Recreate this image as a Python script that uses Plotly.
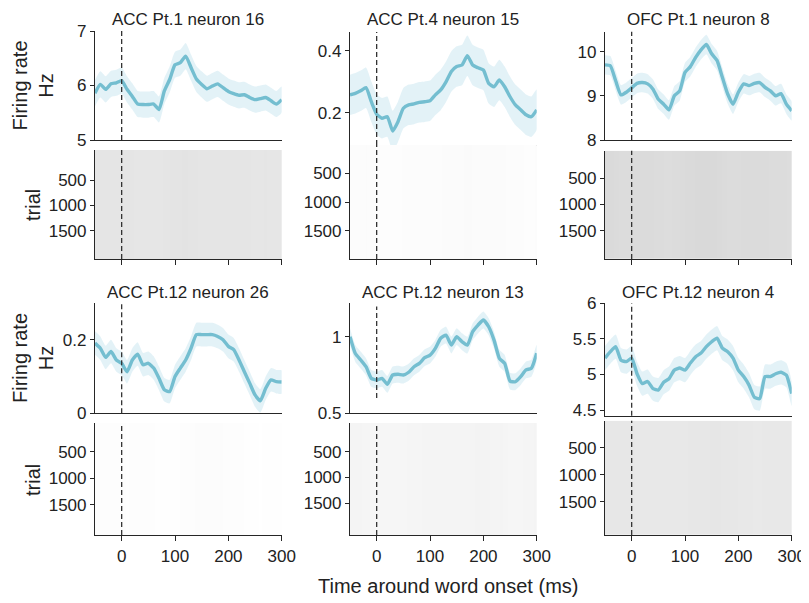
import plotly.graph_objects as go

# page body has an 8px margin: figure is placed at (8, 8) in the 809x603 window
OFF = 8
W, H = 801, 595

# ---------------- data ----------------
time_ms = [-50, -40, -30, -20, -10, 0, 10, 20, 30, 40, 50, 60, 70, 80, 90, 100, 110, 120,
           130, 140, 150, 160, 170, 180, 190, 200, 210, 220, 230, 240, 250, 260, 270, 280, 290, 300]

titles = ["ACC Pt.1 neuron 16", "ACC Pt.4 neuron 15", "OFC Pt.1 neuron 8",
          "ACC Pt.12 neuron 26", "ACC Pt.12 neuron 13", "OFC Pt.12 neuron 4"]

rate_acc1_n16 = [5.86, 6.02, 5.93, 6.03, 6.05, 6.09, 5.93, 5.80, 5.66, 5.65, 5.65, 5.66, 5.56, 5.90,
                 6.11, 6.38, 6.42, 6.54, 6.33, 6.12, 6.02, 5.94, 5.99, 6.03, 5.96, 5.89, 5.85, 5.82,
                 5.83, 5.78, 5.74, 5.76, 5.78, 5.72, 5.66, 5.74]
rate_acc4_n15 = [0.258, 0.263, 0.271, 0.281, 0.236, 0.196, 0.183, 0.188, 0.142, 0.172, 0.215, 0.226,
                 0.229, 0.234, 0.236, 0.239, 0.258, 0.274, 0.300, 0.333, 0.349, 0.354, 0.384, 0.354,
                 0.345, 0.338, 0.295, 0.284, 0.306, 0.284, 0.252, 0.226, 0.210, 0.194, 0.188, 0.210]
rate_ofc1_n8 = [9.70, 9.68, 9.34, 9.02, 9.08, 9.18, 9.28, 9.30, 9.27, 9.15, 8.92, 8.81, 8.68, 9.00,
                9.11, 9.53, 9.66, 9.87, 10.04, 10.16, 9.95, 9.80, 9.42, 9.04, 8.81, 9.08, 9.27, 9.23,
                9.28, 9.30, 9.19, 9.11, 9.00, 9.05, 8.81, 8.66]
rate_acc12_n26 = [0.191, 0.177, 0.152, 0.168, 0.145, 0.136, 0.113, 0.145, 0.161, 0.132, 0.136, 0.123,
                  0.095, 0.064, 0.059, 0.100, 0.123, 0.145, 0.177, 0.214, 0.214, 0.214, 0.214, 0.209,
                  0.200, 0.182, 0.173, 0.145, 0.113, 0.082, 0.050, 0.034, 0.068, 0.091, 0.086, 0.085]
rate_acc12_n13 = [1.00, 0.89, 0.848, 0.804, 0.728, 0.717, 0.728, 0.689, 0.750, 0.755, 0.750, 0.768,
                  0.804, 0.826, 0.863, 0.880, 0.924, 0.990, 1.010, 0.946, 1.000, 0.967, 0.945, 1.033,
                  1.076, 1.109, 1.065, 0.978, 0.859, 0.826, 0.710, 0.706, 0.739, 0.783, 0.794, 0.892]
rate_ofc12_n4 = [5.23, 5.32, 5.39, 5.20, 5.18, 5.23, 5.01, 4.87, 4.90, 4.80, 4.78, 4.89, 4.94, 5.06,
                 5.09, 5.06, 5.16, 5.25, 5.30, 5.39, 5.46, 5.51, 5.37, 5.32, 5.23, 5.06, 4.97, 4.85,
                 4.68, 4.66, 4.97, 4.97, 5.01, 5.03, 4.99, 4.73]

rates = [rate_acc1_n16, rate_acc4_n15, rate_ofc1_n8, rate_acc12_n26, rate_acc12_n13, rate_ofc12_n4]
sems = [0.24, 0.065, 0.22, 0.032, 0.055, 0.17]

rate_ticks = [[5, 6, 7], [0.2, 0.4], [8, 9, 10], [0, 0.2], [0.5, 1], [4.5, 5, 5.5, 6]]
rate_ticktext = [["5", "6", "7"], ["0.2", "0.4"], ["8", "9", "10"], ["0", "0.2"], ["0.5", "1"],
                 ["4.5", "5", "5.5", "6"]]
rate_ranges = [[5, 7], [0.097, 0.46], [8, 10.45], [0, 0.3], [0.5, 1.218], [4.42, 6]]

trial_ticks = [500, 1000, 1500]
trial_ranges = [[2058, -92], [1983, 17], [2037, -18], [2063, -38], [2114, -56], [2117, 0]]

time_ticks = [0, 100, 200, 300]
xlabel = "Time around word onset (ms)"

# ---------------- layout geometry (window pixels) ----------------
cols_px = [(95, 281.7), (350, 536.7), (605, 791.7)]
rate_px = [(31, 140), (32, 145), (31.7, 140), (303, 413.3), (303.3, 413.3), (303.3, 415.7)]
raster_px = [(150, 259), (145, 259), (150.7, 259), (423, 535), (423, 535), (420.7, 535)]
dash_span = [(0, 1), (0, 1), (0, 1), (0, 1), (0.14, 0.97), (0, 1)]


def px_x(a):
    return (a - OFF) / W


def px_y(a):
    return 1 - (a - OFF) / H


def xd(a, b):
    return [px_x(a), px_x(b)]


def yd(top, bottom):
    return [px_y(bottom), px_y(top)]


def sfx(n):
    return "" if n == 1 else str(n)


LINE = "rgb(116,190,208)"
BAND = "rgba(170,215,230,0.33)"
AX = "#262626"
FONT = "Liberation Sans, Arial, Helvetica, sans-serif"
# spike-density grey scale (rate in Hz -> grey)
RASTER_SCALE = [[0, "rgb(255,255,255)"], [0.02, "rgb(244,244,244)"],
                [0.25, "rgb(214,214,214)"], [1, "rgb(0,0,0)"]]

fig = go.Figure()
layout = {}
shapes = []
annotations = []

# x edges for the raster density image
edges = [t - 5 for t in time_ms] + [time_ms[-1] + 5]

for p in range(6):
    col = p % 3
    row = p // 3
    ra = sfx(2 * p + 1)
    rs = sfx(2 * p + 2)
    r = rates[p]
    s = sems[p]
    upper = [v + s for v in r]
    lower = [v - s for v in r]

    fig.add_trace(go.Scatter(x=time_ms + time_ms[::-1], y=upper + lower[::-1], fill="toself",
                             fillcolor=BAND, line=dict(width=0, shape="spline", smoothing=0.5),
                             mode="lines", hoverinfo="skip",
                             showlegend=False, xaxis=f"x{ra}", yaxis=f"y{ra}"))
    fig.add_trace(go.Scatter(x=time_ms, y=r, mode="lines",
                             line=dict(color=LINE, width=3.4, shape="spline", smoothing=0.5),
                             showlegend=False, xaxis=f"x{ra}", yaxis=f"y{ra}"))

    # raster density (spike density follows the firing rate)
    lo, hi = trial_ranges[p][1], trial_ranges[p][0]
    fig.add_trace(go.Heatmap(z=[r], x=edges, y=[lo, hi], zmin=0, zmax=44,
                             colorscale=RASTER_SCALE, zsmooth="best",
                             showscale=False, hoverinfo="skip",
                             xaxis=f"x{rs}", yaxis=f"y{rs}"))

    cx = cols_px[col]
    xline_rate = "#c8c8c8" if p == 1 else AX
    layout[f"xaxis{ra}"] = dict(domain=xd(*cx), anchor=f"y{ra}", range=[-50, 300],
                                showline=True, linecolor=xline_rate, linewidth=1.2,
                                ticks="", showticklabels=False, showgrid=False, zeroline=False)
    layout[f"yaxis{ra}"] = dict(domain=yd(*rate_px[p]), anchor=f"x{ra}", range=rate_ranges[p],
                                tickvals=rate_ticks[p], ticktext=rate_ticktext[p],
                                showline=True, linecolor=AX, linewidth=1.2,
                                ticks="outside", ticklen=4, tickcolor=AX,
                                showgrid=False, zeroline=False,
                                tickfont=dict(size=17, color="#222"))
    layout[f"xaxis{rs}"] = dict(domain=xd(*cx), anchor=f"y{rs}", range=[-50, 300],
                                tickvals=time_ticks, ticks="outside", ticklen=5, tickcolor=AX,
                                showticklabels=(row == 1), showline=True, linecolor=AX,
                                linewidth=1.2, showgrid=False, zeroline=False,
                                tickfont=dict(size=17, color="#222"))
    layout[f"yaxis{rs}"] = dict(domain=yd(*raster_px[p]), anchor=f"x{rs}",
                                range=trial_ranges[p], tickvals=trial_ticks,
                                showline=True, linecolor=AX, linewidth=1.2,
                                ticks="outside", ticklen=4, tickcolor=AX,
                                showgrid=False, zeroline=False,
                                tickfont=dict(size=17, color="#222"))

    for ax, (y0, y1) in ((ra, dash_span[p]), (rs, (0, 1))):
        shapes.append(dict(type="line", xref=f"x{ax}", yref=f"y{ax} domain", x0=0, x1=0,
                           y0=y0, y1=y1, line=dict(color="#333", width=1.3, dash="5px,3px")))

    annotations.append(dict(text=titles[p], x=px_x((cx[0] + cx[1]) / 2),
                            y=px_y(19 if row == 0 else 292), xref="paper", yref="paper",
                            showarrow=False, xanchor="center", yanchor="middle",
                            font=dict(size=17, color="#222")))

for row, (ymid_rate, ymid_trial) in enumerate(((85.5, 205), (358, 480))):
    annotations.append(dict(text="Firing rate<br>Hz", x=px_x(33), y=px_y(ymid_rate),
                            xref="paper", yref="paper", showarrow=False, textangle=-90,
                            xanchor="center", yanchor="middle",
                            font=dict(size=20, color="#222")))
    annotations.append(dict(text="trial", x=px_x(33), y=px_y(ymid_trial),
                            xref="paper", yref="paper", showarrow=False, textangle=-90,
                            xanchor="center", yanchor="middle",
                            font=dict(size=20, color="#222")))

annotations.append(dict(text=xlabel, x=px_x(448), y=px_y(586), xref="paper", yref="paper",
                        showarrow=False, xanchor="center", yanchor="middle",
                        font=dict(size=20, color="#222")))

fig.update_layout(width=W, height=H, margin=dict(l=0, r=0, t=0, b=0, pad=0, autoexpand=False),
                  paper_bgcolor="white", plot_bgcolor="rgba(0,0,0,0)",
                  font=dict(family=FONT, color="#222"),
                  shapes=shapes, annotations=annotations, **layout)

fig.write_html("out.html")
